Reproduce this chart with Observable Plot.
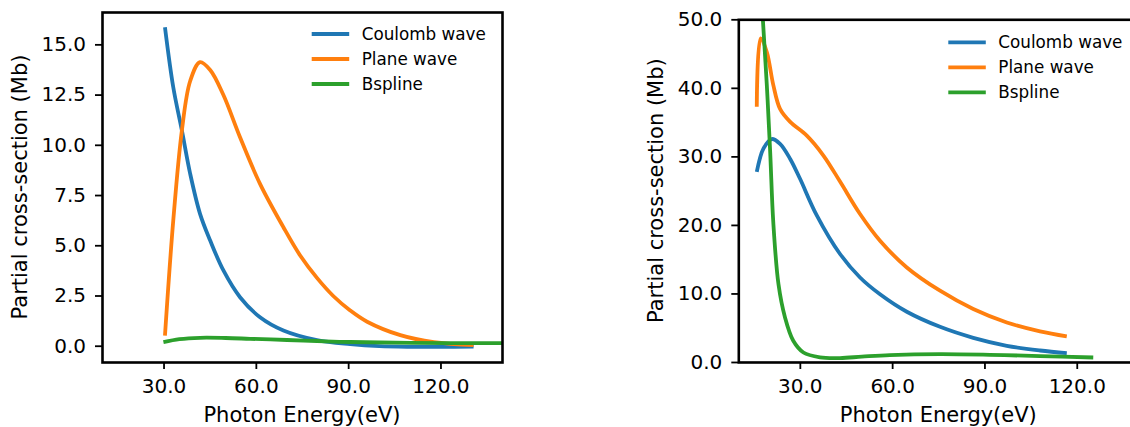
<!DOCTYPE html>
<html><head><meta charset="utf-8">
<script src="https://cdn.jsdelivr.net/npm/d3@7"></script>
<script src="https://cdn.jsdelivr.net/npm/@observablehq/plot@0.6"></script>
<style>
html,body{margin:0;padding:0;background:#fff;overflow:hidden;}
#wrap{position:relative;width:1130px;height:427px;overflow:hidden;background:#fff;}
#wrap svg{position:absolute;top:0;}
</style></head><body><div id="wrap"></div>
<script>
const seriesNames = ["Coulomb wave", "Plane wave", "Bspline"];
const seriesColors = ["#1f77b4", "#ff7f0e", "#2ca02c"];
const xTicks = [30, 60, 90, 120];
const leftYTicks = [0, 2.5, 5, 7.5, 10, 12.5, 15];
const rightYTicks = [0, 10, 20, 30, 40, 50];
const xLabel = "Photon Energy(eV)";
const yLabel = "Partial cross-section (Mb)";

// Left panel
const leftCoulombX = [30.3, 33.0, 35.8, 38.5, 41.7, 45.0, 49.3, 54.7, 61.2, 68.8, 79.7, 90.5, 100, 110, 120, 130.6];
const leftCoulombY = [15.88, 12.89, 10.74, 8.58, 6.59, 5.26, 3.77, 2.44, 1.44, 0.78, 0.3, 0.1, 0.0, -0.03, -0.03, -0.02];
const leftPlaneX = [30.3, 33.0, 35.8, 38.5, 41.7, 45.0, 49.3, 54.7, 61.2, 68.8, 74.3, 79.7, 85.0, 90.5, 96.0, 106.8, 117.7, 130.6];
const leftPlaneY = [0.53, 6.26, 10.74, 13.2, 14.14, 13.75, 12.5, 10.4, 8.08, 5.92, 4.5, 3.4, 2.5, 1.78, 1.22, 0.55, 0.2, 0.05];
const leftBsplineX = [29.8, 35, 41.7, 50, 58, 70, 79.7, 90.5, 110, 140];
const leftBsplineY = [0.2, 0.35, 0.42, 0.41, 0.37, 0.31, 0.26, 0.21, 0.17, 0.15];

// Right panel
const rightCoulombX = [15.84, 18.0, 20.7, 23.4, 26.7, 29.9, 35.3, 42.9, 49.4, 55.9, 64.6, 75.4, 86.2, 97.1, 107.9, 116.6];
const rightCoulombY = [27.8, 31.2, 32.6, 31.9, 29.7, 26.8, 21.5, 15.83, 12.4, 9.95, 7.4, 5.2, 3.6, 2.44, 1.75, 1.37];
const rightPlaneX = [15.84, 17.1, 19.1, 21.2, 23.4, 26.7, 32.1, 37.5, 42.9, 49.4, 55.9, 64.6, 75.4, 86.2, 97.1, 107.9, 116.6];
const rightPlaneY = [37.3, 47.3, 45.3, 40.5, 37.0, 35.1, 33.1, 30.2, 26.4, 21.67, 17.77, 13.87, 10.47, 7.80, 5.84, 4.53, 3.80];
const rightBsplineX = [17.3, 17.8, 19.1, 20.2, 21.2, 22.9, 25.0, 27.7, 31.0, 36.4, 42.9, 50, 59.1, 75.4, 91.6, 107.9, 125.2];
const rightBsplineY = [55, 50.2, 40.5, 30.7, 20.5, 11.4, 6.6, 3.17, 1.46, 0.75, 0.65, 0.85, 1.08, 1.22, 1.12, 0.93, 0.73];

function rows(xs, ys, name) { return xs.map((x, i) => ({x, y: ys[i], series: name})); }

const leftData = [
  ...rows(leftCoulombX, leftCoulombY, seriesNames[0]),
  ...rows(leftPlaneX, leftPlaneY, seriesNames[1]),
  ...rows(leftBsplineX, leftBsplineY, seriesNames[2])
];
const rightData = [
  ...rows(rightCoulombX, rightCoulombY, seriesNames[0]),
  ...rows(rightPlaneX, rightPlaneY, seriesNames[1]),
  ...rows(rightBsplineX, rightBsplineY, seriesNames[2])
];

function panel({data, yDomain, yTicks, yFormat, width, marginLeft, marginRight, marginTop, left, legendX, legendY}) {
  const marginBottom = 427 - 362;
  const svg = Plot.plot({
    width, height: 427, marginLeft, marginRight, marginTop, marginBottom,
    style: {fontFamily: "DejaVu Sans", fontSize: "20px", color: "#000", background: "transparent", overflow: "visible"},
    x: {domain: [10, 140]},
    y: {domain: yDomain},
    color: {domain: seriesNames, range: seriesColors},
    marks: [
      Plot.line(data, {x: "x", y: "y", z: "series", stroke: "series", strokeWidth: 3.8, curve: "catmull-rom", clip: true, strokeLinecap: "butt"}),
      Plot.axisX({ticks: xTicks, tickFormat: d3.format(".1f"), tickSize: 7, tickPadding: 9.5, label: null, strokeWidth: 1.8, fontSize: 20}),
      Plot.axisY({ticks: yTicks, tickFormat: d3.format(yFormat), tickSize: 7, tickPadding: 9.5, label: null, strokeWidth: 1.8, fontSize: 20}),
      Plot.frame({stroke: "#000", strokeWidth: 2.6})
    ]
  });
  svg.style.left = left + "px";
  const s = d3.select(svg);
  const fx0 = marginLeft, fx1 = width - marginRight;
  const fy0 = marginTop, fy1 = 427 - marginBottom;
  s.append("text")
    .attr("x", (fx0 + fx1) / 2).attr("y", 422.3)
    .attr("text-anchor", "middle").attr("font-size", 21).attr("fill", "#000")
    .text(xLabel);
  s.append("text")
    .attr("transform", `translate(${fx0 - 75},${(fy0 + fy1) / 2}) rotate(-90)`)
    .attr("text-anchor", "middle").attr("font-size", 21).attr("fill", "#000")
    .text(yLabel);
  const g = s.append("g");
  seriesNames.forEach((name, i) => {
    const y = legendY + i * 25;
    g.append("line").attr("x1", legendX).attr("x2", legendX + 37.5).attr("y1", y).attr("y2", y)
      .attr("stroke", seriesColors[i]).attr("stroke-width", 3.8);
    g.append("text").attr("x", legendX + 50).attr("y", y).attr("dy", "0.36em")
      .attr("text-anchor", "start")
      .attr("font-size", 16.8).attr("fill", "#000").text(name);
  });
  return svg;
}

const wrap = document.getElementById("wrap");
wrap.appendChild(panel({
  data: leftData, yDomain: [-0.81, 16.61], yTicks: leftYTicks, yFormat: ".1f",
  width: 520, marginLeft: 102, marginRight: 18, marginTop: 12, left: 0,
  legendX: 311.7, legendY: 34
}));
wrap.appendChild(panel({
  data: rightData, yDomain: [0, 50], yTicks: rightYTicks, yFormat: ".1f",
  width: 528.3, marginLeft: 118.3, marginRight: 10, marginTop: 19.3, left: 620,
  legendX: 328.3, legendY: 42.3
}));
</script></body></html>
